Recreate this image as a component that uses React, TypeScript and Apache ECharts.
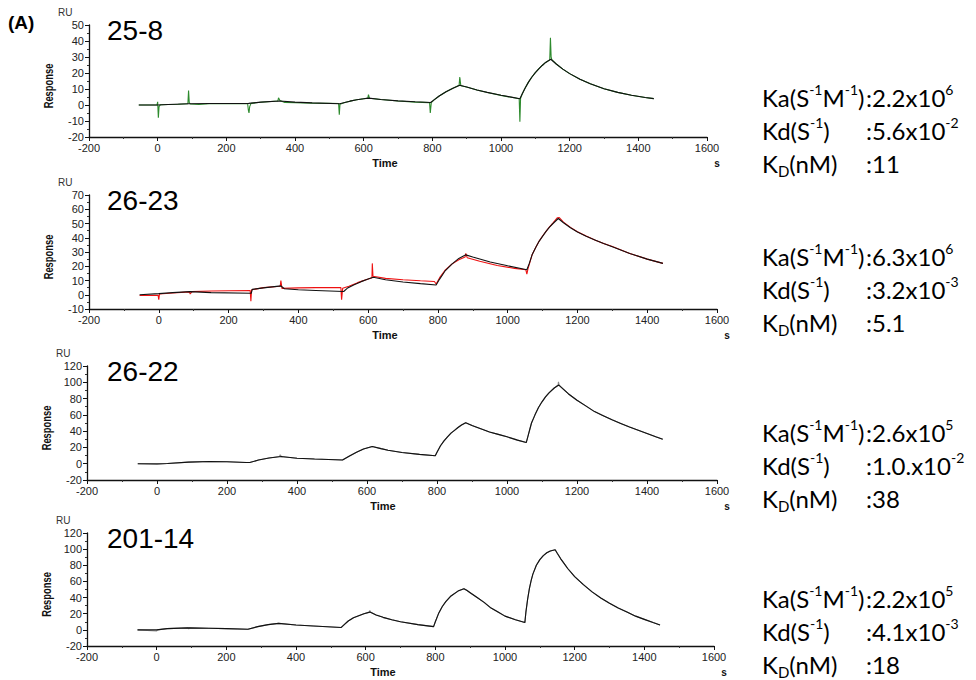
import React, { useEffect, useRef } from "react";
import * as echarts from "echarts";

type Pt = [number, number];

// ---------- data ----------
const panelNames = ["25-8", "26-23", "26-22", "201-14"];
const yMins = [-20, -10, -20, -20];
const yMaxs = [50, 70, 120, 120];
const yIntervals = [10, 10, 20, 20];
const xTicksMin = -200;
const xTicksMax = 1600;
const xInterval = 200;

const kaMant = ["2.2", "6.3", "2.6", "2.2"];
const kaExp = ["6", "6", "5", "5"];
const kdMant = ["5.6", "3.2", "1.0.", "4.1"];
const kdExp = ["-2", "-3", "-2", "-3"];
const kDnM = ["11", "5.1", "38", "18"];

// 25-8 measured (green) and fitted (black)
const obs258: Pt[] = [[-55,0],[-2,0],[0,2],[2,-8],[4,-1],[8,0.2],[60,0.5],[88,0.8],[90,9],[92,1.5],[95,0.6],[120,0.3],[150,0.8],[262,0.9],[264,-3],[266,-5],[268,-1],[272,1.0],[300,1.7],[350,2.5],[352,4.5],[356,2.8],[370,1.6],[400,1.5],[450,1.2],[500,1.0],[527,0.9],[529,-6],[531,0.5],[545,1.6],[560,2.4],[580,3.3],[600,3.9],[612,4.3],[614,6.5],[617,4.2],[650,3.4],[700,2.5],[750,1.8],[792,1.5],[794,-5],[797,1.5],[805,3.2],[820,5.6],[840,8.3],[860,10.5],[878,12.4],[880,17.5],[883,12.0],[900,11.2],[930,9.4],[960,7.8],[1000,6.0],[1030,4.8],[1053,3.9],[1055,-10.4],[1057,4.2],[1062,7],[1070,10.5],[1080,14.3],[1090,17.5],[1100,20.2],[1110,22.6],[1120,24.7],[1130,26.6],[1142,28.2],[1144,42],[1146,30],[1148,28.4],[1160,25.8],[1180,22.4],[1200,19.6],[1230,16.1],[1260,13.3],[1300,10.2],[1340,7.9],[1380,6.1],[1420,4.7],[1445,4.0]];
const fit258: Pt[] = [[-55,0],[0,0],[30,0.3],[90,0.8],[150,0.9],[265,1],[300,1.8],[355,2.5],[400,1.8],[450,1.3],[530,0.8],[545,1.6],[560,2.4],[580,3.3],[600,3.9],[615,4.3],[650,3.4],[700,2.6],[750,2.0],[795,1.6],[805,3.2],[820,5.6],[840,8.3],[860,10.5],[880,12.3],[900,11.2],[930,9.4],[960,7.9],[1000,6.1],[1030,4.9],[1055,3.9],[1062,7],[1070,10.5],[1080,14.3],[1090,17.5],[1100,20.2],[1110,22.6],[1120,24.7],[1130,26.6],[1145,28.6],[1160,25.8],[1180,22.4],[1200,19.6],[1230,16.1],[1260,13.3],[1300,10.2],[1340,7.9],[1380,6.1],[1420,4.7],[1445,4.0]];

// 26-23 measured (red) and fitted (black)
const obs2623: Pt[] = [[-55,-0.5],[-2,-0.3],[0,-3.5],[2,0.5],[40,1.2],[88,2],[90,0.5],[95,2.2],[150,2.6],[200,2.8],[262,3],[264,-4.5],[266,3.5],[300,5],[348,6],[350,10],[353,4.5],[400,4.8],[450,5],[522,5],[524,-3.5],[527,4.5],[545,6],[570,8.5],[600,11],[611,12],[612,22],[614,13],[650,11.5],[700,10.5],[750,9.8],[790,9.3],[795,7.5],[805,12],[820,17],[840,21.5],[860,24.5],[878,26.5],[880,29],[884,26],[920,23.5],[970,20.5],[1020,18.5],[1052,17.5],[1055,14.5],[1058,18],[1070,28],[1080,33],[1090,37.5],[1100,41.2],[1110,44.5],[1120,47.7],[1130,50.5],[1142,54],[1148,54.2],[1160,51],[1180,47.3],[1200,44.2],[1225,41.2],[1250,38.5],[1275,36],[1300,33.8],[1350,29],[1400,25],[1445,22]];
const fit2623: Pt[] = [[-55,0],[0,0.8],[40,1.5],[90,2.2],[150,1.5],[265,1.0],[268,3.8],[300,4.8],[350,6.2],[360,4.2],[400,3.5],[450,3],[530,2.3],[540,4.5],[560,7],[580,9.2],[600,11],[615,12.3],[650,10.5],[700,9],[750,7.8],[795,6.8],[805,11],[820,16.5],[840,21.5],[860,25.5],[880,28],[900,26.5],[950,23],[1000,20.3],[1055,17.5],[1062,22],[1070,28],[1080,33],[1090,37.5],[1100,41],[1110,44.5],[1120,47.5],[1130,50],[1145,53.5],[1160,50.5],[1180,47],[1200,44],[1225,41],[1250,38.5],[1275,36],[1300,33.7],[1350,29],[1400,25],[1445,22]];

// 26-22 measured and fitted
const obs2622: Pt[] = [[-55,0],[0,-1],[30,0.2],[90,2],[150,2.8],[200,2.5],[255,1.5],[265,1.5],[290,4.5],[320,7],[350,8.8],[352,11],[356,8.6],[400,6.8],[450,5.7],[530,4.5],[540,7],[550,9.5],[570,14],[590,18],[615,21.2],[640,18.5],[660,16.5],[700,13.8],[750,11.5],[795,9.8],[800,14],[810,22],[820,28],[830,33],[840,37.5],[850,41],[860,44.5],[870,47.5],[882,50.4],[900,47],[925,43],[950,39],[975,36],[1000,33],[1030,29],[1055,26],[1060,34],[1065,42],[1070,50],[1080,60],[1090,69],[1100,76],[1110,82],[1120,87],[1135,93],[1146,96.6],[1147,100.5],[1149,96.4],[1160,92],[1175,86],[1200,78],[1225,71],[1250,64],[1275,59],[1300,54],[1325,49.5],[1350,45],[1375,41],[1400,37],[1425,33],[1445,30]];
const fit2622: Pt[] = [[-55,0],[0,0],[30,0.2],[90,2],[150,2.8],[200,2.5],[255,1.5],[265,1.5],[290,4.5],[320,7],[355,8.8],[400,6.8],[450,5.7],[530,4.5],[540,7],[550,9.5],[570,14],[590,18],[615,21.2],[640,18.5],[660,16.5],[700,13.8],[750,11.5],[795,9.8],[800,14],[810,22],[820,28],[830,33],[840,37.5],[850,41],[860,44.5],[870,47.5],[882,50.4],[900,47],[925,43],[950,39],[975,36],[1000,33],[1030,29],[1055,26],[1060,34],[1065,42],[1070,50],[1080,60],[1090,69],[1100,76],[1110,82],[1120,87],[1135,93],[1148,96.6],[1160,92],[1175,86],[1200,78],[1225,71],[1250,64],[1275,59],[1300,54],[1325,49.5],[1350,45],[1375,41],[1400,37],[1425,33],[1445,30]];

// 201-14 measured and fitted
const obs20114: Pt[] = [[-55,0],[0,-1.5],[2,0],[30,1.5],[90,2.5],[92,1],[94,2.5],[150,2],[200,1.5],[262,0.8],[290,4],[320,6.5],[350,8],[400,6],[450,4.8],[530,3],[540,7],[550,11],[565,15],[580,17.5],[595,20],[610,22],[612,24],[614,22],[630,18.5],[650,15.5],[675,12.5],[700,10],[750,6.5],[795,4],[800,10],[810,21],[820,29],[830,35],[845,42],[865,48],[882,51],[890,49],[900,46],[920,40],[940,34],[960,27],[980,22],[1000,17],[1030,12.5],[1057,9],[1060,22],[1065,38],[1070,51],[1075,61],[1080,69],[1090,80],[1100,87],[1110,92],[1120,95.5],[1130,97.8],[1144,99.3],[1150,95],[1160,88],[1170,82],[1180,76],[1200,66],[1225,56],[1250,47],[1275,39.5],[1300,33],[1325,27],[1350,22],[1375,17],[1400,13],[1425,9],[1445,6]];
const fit20114: Pt[] = [[-55,0],[0,0],[30,1.5],[90,2.5],[150,2],[200,1.5],[262,0.8],[290,4],[320,6.5],[350,8],[400,6],[450,4.8],[530,3],[540,7],[550,11],[565,15],[580,17.5],[595,20],[612,22],[630,18.5],[650,15.5],[675,12.5],[700,10],[750,6.5],[795,4],[800,10],[810,21],[820,29],[830,35],[845,42],[865,48],[882,51],[890,49],[900,46],[920,40],[940,34],[960,27],[980,22],[1000,17],[1030,12.5],[1057,9],[1060,22],[1065,38],[1070,51],[1075,61],[1080,69],[1090,80],[1100,87],[1110,92],[1120,95.5],[1130,97.8],[1144,99.3],[1150,95],[1160,88],[1170,82],[1180,76],[1200,66],[1225,56],[1250,47],[1275,39.5],[1300,33],[1325,27],[1350,22],[1375,17],[1400,13],[1425,9],[1445,6]];

const observed = [obs258, obs2623, obs2622, obs20114];
const fitted = [fit258, fit2623, fit2622, fit20114];

// ---------- styling / layout ----------
const obsColors = ["#2e8b2e", "#ee1111", "#8a8a8a", "#8a8a8a"];
const grids = [
  { left: 89, top: 25, width: 618, height: 112 },
  { left: 89, top: 195, width: 628, height: 114 },
  { left: 87, top: 366, width: 630, height: 114 },
  { left: 87, top: 533, width: 627, height: 113 },
];
const textTops = [97, 256, 432, 598];
const AXF = "'Liberation Sans', Arial, sans-serif";
const RF = "Lato, 'Noto Sans', sans-serif";

export default function App() {
  const ref = useRef<HTMLDivElement>(null);
  useEffect(() => {
    if (!ref.current) return;
    const chart = echarts.init(ref.current, null, { renderer: "svg" });

    const xAxis: any[] = [];
    const yAxis: any[] = [];
    const series: any[] = [];
    const graphic: any[] = [];

    grids.forEach((g, i) => {
      xAxis.push({
        type: "value",
        gridIndex: i,
        min: xTicksMin,
        max: xTicksMax,
        interval: xInterval,
        axisLine: { show: true, onZero: false, lineStyle: { color: "#111", width: 1.3 } },
        axisTick: { show: true, length: 4, lineStyle: { color: "#111" } },
        minorTick: { show: true, splitNumber: 2, length: 2, lineStyle: { color: "#333" } },
        splitLine: { show: false },
        axisLabel: {
          fontFamily: AXF,
          fontSize: 11,
          color: "#222",
          margin: 5,
          formatter: (v: number) => String(v),
        },
      });
      yAxis.push({
        type: "value",
        gridIndex: i,
        min: yMins[i],
        max: yMaxs[i],
        interval: yIntervals[i],
        axisLine: { show: true, onZero: false, lineStyle: { color: "#111", width: 1.3 } },
        axisTick: { show: true, length: 4, lineStyle: { color: "#111" } },
        minorTick: { show: true, splitNumber: 2, length: 2, lineStyle: { color: "#333" } },
        splitLine: { show: false },
        axisLabel: {
          fontFamily: AXF,
          fontSize: 11,
          color: "#222",
          margin: 5,
          formatter: (v: number) => String(v),
        },
      });
      series.push({
        type: "line",
        name: panelNames[i] + " measured",
        xAxisIndex: i,
        yAxisIndex: i,
        data: observed[i],
        showSymbol: false,
        lineStyle: { color: obsColors[i], width: 1.1 },
        itemStyle: { color: obsColors[i] },
        z: 2,
      });
      series.push({
        type: "line",
        name: panelNames[i] + " fit",
        xAxisIndex: i,
        yAxisIndex: i,
        data: fitted[i],
        showSymbol: false,
        lineStyle: { color: "#111", width: 1.1 },
        itemStyle: { color: "#111" },
        z: 3,
      });

      const bottom = g.top + g.height;
      graphic.push({
        type: "text",
        left: g.left - 31,
        top: g.top - 18,
        style: { text: "RU", font: `10px ${AXF}`, fill: "#333" },
      });
      graphic.push({
        type: "text",
        x: g.left - 40,
        y: g.top + g.height / 2 + 5,
        rotation: Math.PI / 2,
        scaleX: 0.78,
        style: {
          text: "Response",
          font: `bold 12px ${AXF}`,
          fill: "#111",
          align: "center",
          verticalAlign: "middle",
        },
      });
      graphic.push({
        type: "text",
        x: g.left + 296,
        y: bottom + 26,
        style: { text: "Time", font: `bold 11px ${AXF}`, fill: "#111", align: "center", verticalAlign: "middle" },
      });
      graphic.push({
        type: "text",
        x: g.left + g.width + 10,
        y: bottom + 26,
        style: { text: "s", font: `bold 10px ${AXF}`, fill: "#111", align: "center", verticalAlign: "middle" },
      });
      graphic.push({
        type: "text",
        x: 107,
        y: g.top + 5,
        style: { text: panelNames[i], font: `28px ${AXF}`, fill: "#000", verticalAlign: "middle" },
      });

      const rich = {
        n: { fontFamily: RF, fontSize: 24, lineHeight: 30, fill: "#000", color: "#000" },
        sup: { fontFamily: RF, fontSize: 14, lineHeight: 14, verticalAlign: "top", fill: "#000", color: "#000" },
        sub: { fontFamily: RF, fontSize: 15, lineHeight: 15, verticalAlign: "bottom", fill: "#000", color: "#000" },
      };
      const ty = textTops[i];
      const rowGap = 33;
      const lx = 762;
      const vx = 866;
      const rows = [
        ["{n|Ka(S}{sup|-1}{n|M}{sup|-1}{n|)}", `{n|:${kaMant[i]}x10}{sup|${kaExp[i]}}`],
        ["{n|Kd(S}{sup|-1}{n|)}", `{n|:${kdMant[i]}x10}{sup|${kdExp[i]}}`],
        ["{n|K}{sub|D}{n|(nM)}", `{n|:${kDnM[i]}}`],
      ];
      rows.forEach((r, k) => {
        graphic.push({
          type: "text",
          x: lx,
          y: ty + k * rowGap,
          style: { text: r[0], rich, verticalAlign: "middle", fill: "#000" },
        });
        graphic.push({
          type: "text",
          x: vx,
          y: ty + k * rowGap,
          style: { text: r[1], rich, verticalAlign: "middle", fill: "#000" },
        });
      });
    });

    graphic.push({
      type: "text",
      x: 8,
      y: 22,
      style: { text: "(A)", font: `bold 19px ${AXF}`, fill: "#000", verticalAlign: "middle" },
    });

    chart.setOption({
      animation: false,
      backgroundColor: "#fff",
      grid: grids.map((g) => ({ ...g, containLabel: false })),
      xAxis,
      yAxis,
      series,
      graphic,
    });
    return () => chart.dispose();
  }, []);

  return (
    <div
      ref={ref}
      style={{ position: "fixed", left: 0, top: 0, width: 976, height: 680, background: "#fff" }}
    />
  );
}
